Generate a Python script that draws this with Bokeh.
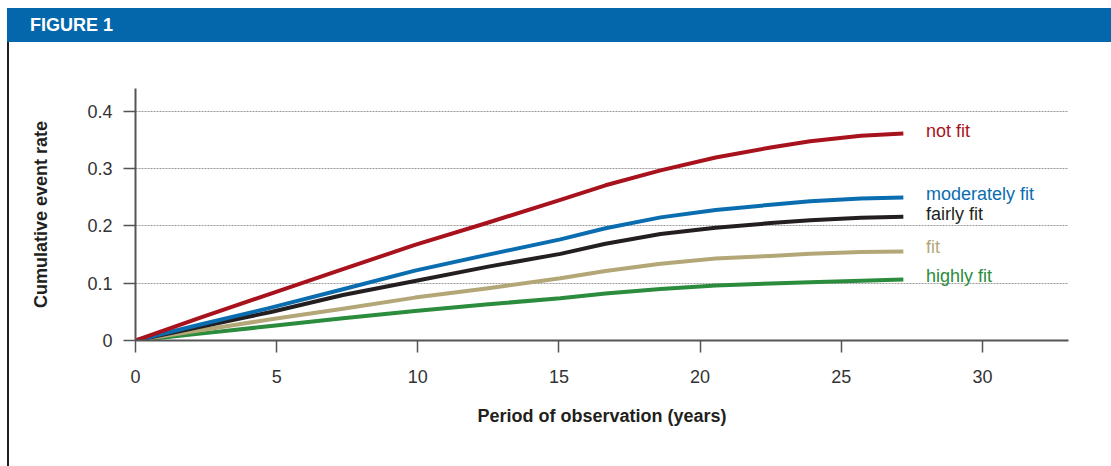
from bokeh.plotting import figure
from bokeh.models import Range1d, FixedTicker, Div, ColumnDataSource
from bokeh.layouts import column, row
from bokeh.embed import file_html
from bokeh.resources import INLINE
from bokeh.core.properties import value

# ---------------- data ----------------
years = [0, 2.3, 4.8, 7.35, 9.9, 12.5, 15.05, 16.65, 18.6, 20.55, 22.5, 23.9, 25.7, 27.2]
not_fit = [0, 0.040, 0.082, 0.1245, 0.167, 0.206, 0.2456, 0.271, 0.297, 0.3196, 0.337, 0.348, 0.3575, 0.3615]
moderately_fit = [0, 0.028, 0.0574, 0.0895, 0.122, 0.150, 0.1765, 0.196, 0.215, 0.228, 0.237, 0.243, 0.248, 0.2497]
fairly_fit = [0, 0.024, 0.0498, 0.0795, 0.104, 0.129, 0.1512, 0.169, 0.186, 0.197, 0.205, 0.2100, 0.2145, 0.216]
fit = [0, 0.018, 0.037, 0.0556, 0.0749, 0.0912, 0.1087, 0.1215, 0.134, 0.1430, 0.1477, 0.1515, 0.1545, 0.1553]
highly_fit = [0, 0.012, 0.0253, 0.0388, 0.0516, 0.0633, 0.0737, 0.082, 0.0900, 0.0960, 0.0995, 0.1015, 0.1045, 0.1063]

series_names = ["not fit", "moderately fit", "fairly fit", "fit", "highly fit"]
series_values = [not_fit, moderately_fit, fairly_fit, fit, highly_fit]

x_ticks = [0, 5, 10, 15, 20, 25, 30]
x_tick_labels = ["0", "5", "10", "15", "20", "25", "30"]
y_ticks = [0, 0.1, 0.2, 0.3, 0.4]
y_tick_labels = ["0", "0.1", "0.2", "0.3", "0.4"]

title_text = "FIGURE 1"
x_title = "Period of observation (years)"
y_title = "Cumulative event rate"

# ---------------- style ----------------
FONT = "Liberation Sans"
FS = "18px"
BLUE_HDR = "#0467AC"
colors = ["#A8121C", "#0A6DB0", "#231F20", "#B3A777", "#2A8C3C"]
label_offsets = [0.005, 0.006, 0.005, 0.008, 0.007]
draw_order = [4, 3, 2, 1, 0]

header = Div(text=title_text, width=1104, height=34, margin=(8, 0, 0, 7),
             styles={"background-color": BLUE_HDR, "color": "white",
                     "font-family": FONT, "font-weight": "bold",
                     "font-size": "18px", "line-height": "34px",
                     "padding-left": "23px", "box-sizing": "border-box"})

border = Div(text="", width=2, height=424, margin=(0, 0, 0, 7),
             styles={"background-color": "#231F20"})

p = figure(width=1102, height=424, output_backend="svg", toolbar_location=None,
           x_range=Range1d(0, 33.05), y_range=Range1d(0, 0.44),
           min_border_left=126, min_border_right=43,
           min_border_top=46, min_border_bottom=126,
           outline_line_color=None, background_fill_color="white",
           border_fill_color="white", margin=0)

p.xgrid.visible = False
p.ygrid.ticker = FixedTicker(ticks=y_ticks[1:])
p.ygrid.grid_line_color = "#9a9a9a"
p.ygrid.grid_line_dash = "2 1"
p.ygrid.grid_line_width = 1

for ax in (p.xaxis[0], p.yaxis[0]):
    ax.axis_line_color = "#555555"
    ax.axis_line_width = 2
    ax.major_tick_line_color = "#555555"
    ax.major_tick_line_width = 1.5
    ax.major_tick_in = 0
    ax.major_tick_out = 12
    ax.minor_tick_line_color = None
    ax.major_label_text_font = FONT
    ax.major_label_text_font_size = FS
    ax.major_label_text_color = "#333333"
    ax.axis_label_text_font = FONT
    ax.axis_label_text_font_size = FS
    ax.axis_label_text_font_style = "bold"
    ax.axis_label_text_color = "#231F20"

p.xaxis.ticker = FixedTicker(ticks=x_ticks)
p.xaxis.major_label_overrides = {t: l for t, l in zip(x_ticks, x_tick_labels)}
p.yaxis.ticker = FixedTicker(ticks=y_ticks)
p.yaxis.major_label_overrides = {t: l for t, l in zip(y_ticks, y_tick_labels)}
p.xaxis.major_label_standoff = 17
p.yaxis.major_label_standoff = 11
p.xaxis.axis_label = x_title
p.yaxis.axis_label = y_title
p.xaxis.axis_label_standoff = 20
p.yaxis.axis_label_standoff = 33

for i in draw_order:
    src = ColumnDataSource(dict(x=years, y=series_values[i]))
    p.line("x", "y", source=src, line_color=colors[i], line_width=4,
           line_join="round", line_cap="butt")

label_src = ColumnDataSource(dict(
    x=[years[-1] + 0.8] * len(series_names),
    y=[v[-1] + o for v, o in zip(series_values, label_offsets)],
    t=series_names, c=colors))
p.text("x", "y", text="t", source=label_src, text_color="c",
       text_font=value(FONT), text_font_size=FS, text_baseline="middle",
       text_align="left")

layout = column(header, row(border, p, spacing=0, margin=0), spacing=0, margin=0)

open("out.html", "w").write(file_html(layout, INLINE))
